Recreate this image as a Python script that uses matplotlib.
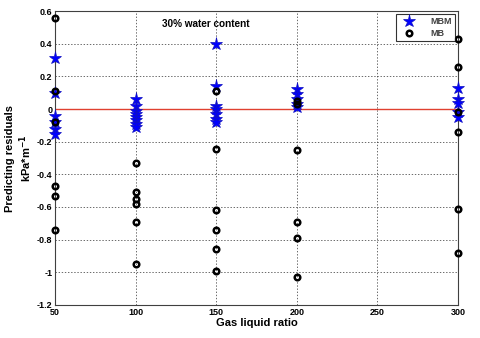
import matplotlib
matplotlib.use("Agg")
import matplotlib.pyplot as plt
import numpy as np

plt.rcParams['font.family'] = ['Liberation Sans', 'DejaVu Sans']
plt.rcParams['font.weight'] = 'bold'

# residuals, grouped by gas liquid ratio
mbm_x = [50]*6 + [100]*8 + [150]*7 + [200]*5 + [300]*5
mbm_y = [0.31, 0.10, -0.04, -0.08, -0.12, -0.15,
         0.06, 0.02, -0.01, -0.03, -0.05, -0.07, -0.09, -0.11,
         0.40, 0.14, 0.02, 0.00, -0.03, -0.06, -0.08,
         0.12, 0.09, 0.06, 0.03, 0.01,
         0.13, 0.06, 0.04, -0.02, -0.05]

mb_x = [50]*6 + [100]*6 + [150]*6 + [200]*6 + [300]*6
mb_y = [0.56, 0.11, -0.08, -0.47, -0.53, -0.74,
        -0.33, -0.51, -0.55, -0.58, -0.69, -0.95,
        0.11, -0.245, -0.62, -0.74, -0.86, -0.99,
        0.05, 0.03, -0.25, -0.69, -0.79, -1.03,
        0.43, 0.26, -0.02, -0.14, -0.61, -0.88]

fig = plt.figure(figsize=(4.8, 3.38), dpi=100)
ax = fig.add_axes([0.115, 0.098, 0.839, 0.869])

ax.plot(mbm_x, mbm_y, linestyle='none', marker='*', markersize=9.5,
        color='#0000ff', markeredgecolor='#1010c0', markeredgewidth=0.5,
        label='MBM', clip_on=False, zorder=3)
ax.plot(mb_x, mb_y, linestyle='none', marker='o', markersize=4,
        markerfacecolor='none', markeredgecolor='black', markeredgewidth=1.8,
        label='MB', clip_on=False, zorder=4)
ax.axhline(0, color='#e04030', linewidth=1.0, zorder=2)

ax.set_xlim(50, 300)
ax.set_ylim(-1.2, 0.6)
ax.set_xticks([50, 100, 150, 200, 250, 300])
ax.set_yticks([-1.2, -1, -0.8, -0.6, -0.4, -0.2, 0, 0.2, 0.4, 0.6])
ax.set_yticklabels(['-1.2', '-1', '-0.8', '-0.6', '-0.4', '-0.2', '0', '0.2', '0.4', '0.6'])
ax.tick_params(labelsize=6.5, length=0, pad=2)
ax.grid(True, color='#303030', linestyle=(0, (2, 2.5)), linewidth=0.5)
for s in ax.spines.values():
    s.set_color('#404040')
    s.set_linewidth(0.8)

ax.set_xlabel('Gas liquid ratio', fontsize=8, fontweight='bold', labelpad=1)
ax.set_ylabel('Predicting residuals\nkPa*m$^{\\mathbf{-1}}$', fontsize=8,
              fontweight='bold', labelpad=2)
ax.text(0.265, 0.955, '30% water content', transform=ax.transAxes,
        fontsize=7.2, fontweight='bold', va='center')

leg = ax.legend(loc='upper right', fontsize=6.5, frameon=True, fancybox=False,
                borderaxespad=0.3, handletextpad=1.2, borderpad=0.4,
                labelspacing=0.25, handlelength=2.2)
leg.get_frame().set_edgecolor('black')
leg.get_frame().set_linewidth(0.8)
for t in leg.get_texts():
    t.set_color('#404040')

fig.savefig('out.png', dpi=100)
